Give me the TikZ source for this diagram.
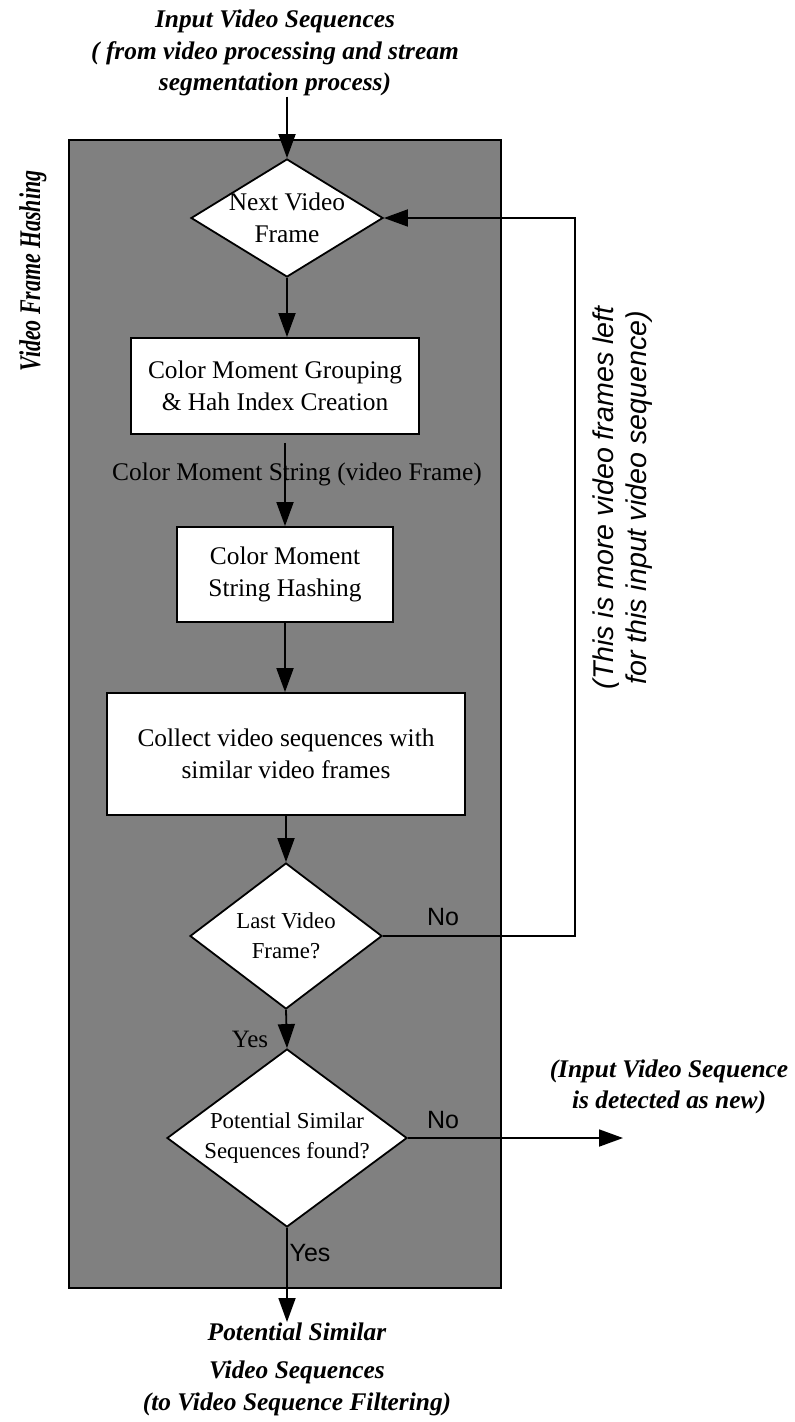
\documentclass[tikz,border=0pt]{standalone}
\usepackage{fontspec}
\setmainfont{Liberation Serif}
\newfontfamily\arialfont{Liberation Sans}
\usepackage{graphicx}
\usepackage{tikz}
\usetikzlibrary{calc}
\usetikzlibrary{arrows.meta,shapes.geometric}
\usetikzlibrary{positioning}
\usepackage{xcolor}
\definecolor{boxgray}{RGB}{128,128,128}
\newcommand{\boxfont}{\fontsize{12.7}{16}\selectfont}
\newcommand{\decfont}{\fontsize{11.4}{15}\selectfont}
\newcommand{\titlefont}{\fontsize{12.7}{15.8}\selectfont\bfseries\itshape}

\begin{document}
\begin{tikzpicture}[x=0.5pt,y=-0.5pt,
    flow/.style={line width=0.9pt,-{Triangle[length=12pt,width=8.5pt]}},
    process/.style={draw,line width=0.9pt,fill=white,align=center,font=\boxfont,inner sep=0pt},
    decision/.style={draw,line width=0.9pt,fill=white,diamond,align=center,inner sep=-3pt},
    sans/.style={font=\arialfont\fontsize{12.5}{15}\selectfont,inner sep=0pt}]
      \useasboundingbox (0,0) rectangle (794,1422);
      \draw[line width=0.9pt,fill=boxgray] (69,140) rectangle (501,1288);
      % boxes and decisions
      \node (next) [decision,font=\boxfont,aspect=1.63,minimum width=96pt,minimum height=59pt] at (287,218) {Next Video\\Frame};
      \node (group) [process,minimum width=144pt,minimum height=48pt] at (275,386) {Color Moment Grouping\\\& Hah Index Creation};
      \node (hash) [process,minimum width=108pt,minimum height=47.5pt] at (285,574.5) {Color Moment\\String Hashing};
      \node (collect) [process,minimum width=179pt,minimum height=61pt] at (286,754) {Collect video sequences with\\similar video frames};
      \node (last) [decision,font=\decfont,aspect=1.31,minimum width=96pt,minimum height=73pt] at (286,936) {Last Video\\Frame?};
      \node (found) [decision,font=\decfont,aspect=1.35,minimum width=120pt,minimum height=89pt] at (287,1138) {Potential Similar\\Sequences found?};
      % texts around
      \node (title) [align=center,font=\titlefont,inner sep=0pt] at (275,53) {Input Video Sequences\\( from video processing and stream\\segmentation process)};
      \node (result) [align=center,font=\titlefont,inner sep=0pt,anchor=north] at (297,1322) {Potential Similar\\[3.5pt]Video Sequences\\(to Video Sequence Filtering)};
      \node (newseq) [align=center,font=\titlefont,inner sep=0pt] at (669,1087) {(Input Video Sequence\\is detected as new)};
      \node (cms) [font=\boxfont,inner sep=0pt] at (297,474) {Color Moment String (video Frame)};
      \node (side) [rotate=90,inner sep=0pt] at (33,271) {\scalebox{0.73}[1]{\fontsize{15}{18}\selectfont\bfseries\itshape Video Frame Hashing}};
      \node (more) [rotate=90,align=center,inner sep=0pt,font=\arialfont\itshape\fontsize{14.3}{16.5}\selectfont] at (623,498) {(This is more video frames left\\for this input video sequence)};
      \node (noA) [sans] at (443,917) {No};
      \node (noB) [sans] at (443,1120) {No};
      \node (yesA) [font=\fontsize{12.5}{15}\selectfont,inner sep=0pt] at (250,1039) {Yes};
      \node (yesB) [sans] at (310,1253) {Yes};
      \coordinate (loop) at (575,0);
      \coordinate (newend) at (623,0);
      % connectors
      \draw[flow] (next.north |- title.south) -- (next.north);
      \draw[flow] (next.south) -- (next.south |- group.north);
      \draw[flow,shorten <=4pt] (hash.north |- group.south) -- (hash.north);
      \draw[flow] (hash.south) -- (hash.south |- collect.north);
      \draw[flow] (collect.south) -- (last.north);
      \draw[flow] (last.south) -- (found.north);
      \draw[flow] (last.east) -- (last.east -| loop) -- (next.east -| loop) -- (next.east);
      \draw[flow] (found.east) -- (found.east -| newend);
      \draw[flow] (found.south) -- (found.south |- result.north);
    \end{tikzpicture}
\end{document}
